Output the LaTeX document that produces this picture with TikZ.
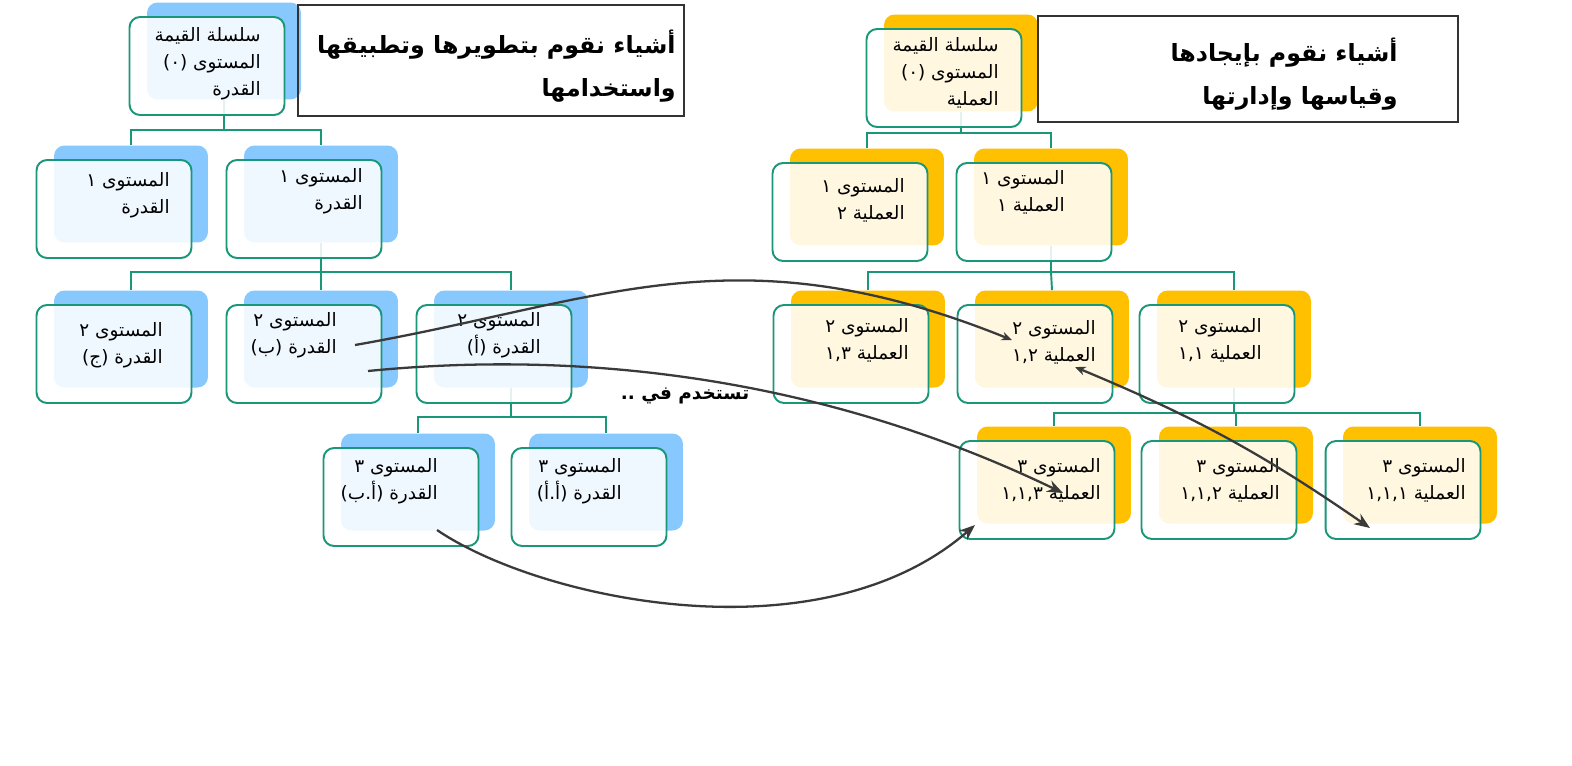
\documentclass[tikz,border=0pt]{standalone}
\usepackage{fontspec}
\newfontfamily\arabicfont[Script=Arabic]{DejaVu Sans}
\TeXXeTstate=1
\usetikzlibrary{arrows.meta}
\definecolor{tealline}{RGB}{26,150,120}
\definecolor{capblue}{RGB}{135,200,255}
\definecolor{procgold}{RGB}{255,192,0}
\definecolor{usegray}{RGB}{58,58,58}
\newcommand{\rl}[1]{\beginR #1\endR}

\begin{document}
\begin{tikzpicture}[
  x=0.02cm,y=-0.02cm,
  back/.style={rectangle,rounded corners=6pt,minimum width=3.08cm,minimum height=1.94cm,inner sep=0pt},
  capback/.style={back,fill=capblue},
  procback/.style={back,fill=procgold},
  frame/.style={rectangle,rounded corners=6pt,draw=tealline,line width=1.1pt,fill=white,fill opacity=0.88,minimum width=3.1cm,minimum height=1.96cm,inner sep=0pt},
  lbl/.style={anchor=north east,align=right,inner sep=0pt,font=\arabicfont\fontsize{10.5}{15.5}\selectfont},
  titlebox/.style={rectangle,draw=black!80,line width=1.1pt,inner sep=0pt},
  titletext/.style={anchor=north east,align=right,inner sep=0pt,font=\arabicfont\bfseries\fontsize{13.5}{24}\selectfont},
  link/.style={tealline,line width=1.1pt},
  use/.style={-{Stealth[length=9pt,width=7pt]},usegray,line width=1.3pt}
]
  \fill[white] (0,0) rectangle (1572,765);
  \useasboundingbox (0,0) rectangle (1572,765);

  \foreach \n/\x/\y in {v0/224/51,v1b/131/194,v1a/321/194,v2c/131/339,v2b/321/339,v2a/511/339,v3b/418/482,v3a/606/482}
    \node[capback] (\n) at (\x,\y) {};
  \foreach \n/\x/\y in {w0/961/63,w1b/867/197,w1a/1051/197,w2c/868/339,w2b/1052/339,w2a/1234/339,w3c/1054/475,w3b/1236/475,w3a/1420/475}
    \node[procback] (\n) at (\x,\y) {};

  \coordinate (busv0) at (224,130);
  \coordinate (busv1) at (321,272);
  \coordinate (busv2) at (511,417);
  \coordinate (busw0) at (961,133);
  \coordinate (busw1) at (1051,272);
  \coordinate (busw2) at (1234,413);
  \draw[link] (v0.south) -- (busv0) -| (v1b.north);
  \draw[link] (busv0) -| (v1a.north);
  \draw[link] (v1a.south) -- (busv1) -| (v2c.north);
  \draw[link] (busv1) -- (v2b.north);
  \draw[link] (busv1) -| (v2a.north);
  \draw[link] (v2a.south) -- (busv2) -| (v3b.north);
  \draw[link] (busv2) -| (v3a.north);
  \draw[link] (w0.south) -- (busw0) -| (w1b.north);
  \draw[link] (busw0) -| (w1a.north);
  \draw[link] (w1a.south) -- (busw1) -| (w2c.north);
  \draw[link] (busw1) -- (w2b.north);
  \draw[link] (busw1) -| (w2a.north);
  \draw[link] (w2a.south) -- (busw2) -| (w3c.north);
  \draw[link] (busw2) -| (w3b.north);
  \draw[link] (busw2) -| (w3a.north);

  \foreach \n in {v0,v1b,v1a,v2c,v2b,v2a,v3b,v3a,w0,w1b,w1a,w2c,w2b,w2a,w3c,w3b,w3a}
    \node[frame] (f\n) at ([xshift=-0.34cm,yshift=-0.3cm]\n.center) {};

  \node[lbl] (tv0) at (261,27) {\rl{سلسلة القيمة}\\\rl{المستوى (٠)}\\\rl{القدرة}};
  \node[lbl] (tv1b) at (170,172) {\rl{المستوى ١}\\\rl{القدرة}};
  \node[lbl] (tv1a) at (363,168) {\rl{المستوى ١}\\\rl{القدرة}};
  \node[lbl] (tv2c) at (163,322) {\rl{المستوى ٢}\\\rl{القدرة (ج)}};
  \node[lbl] (tv2b) at (337,312) {\rl{المستوى ٢}\\\rl{القدرة (ب)}};
  \node[lbl] (tv2a) at (541,312) {\rl{المستوى ٢}\\\rl{القدرة (أ)}};
  \node[lbl] (tv3b) at (438,458) {\rl{المستوى ٣}\\\rl{القدرة (أ.ب)}};
  \node[lbl] (tv3a) at (622,458) {\rl{المستوى ٣}\\\rl{القدرة (أ.أ)}};
  \node[lbl] (tw0) at (999,37) {\rl{سلسلة القيمة}\\\rl{المستوى (٠)}\\\rl{العملية}};
  \node[lbl] (tw1b) at (905,178) {\rl{المستوى ١}\\\rl{العملية ٢}};
  \node[lbl] (tw1a) at (1065,170) {\rl{المستوى ١}\\\rl{العملية ١}};
  \node[lbl] (tw2c) at (909,318) {\rl{المستوى ٢}\\\rl{العملية ١,٣}};
  \node[lbl] (tw2b) at (1096,320) {\rl{المستوى ٢}\\\rl{العملية ١,٢}};
  \node[lbl] (tw2a) at (1262,318) {\rl{المستوى ٢}\\\rl{العملية ١,١}};
  \node[lbl] (tw3c) at (1101,458) {\rl{المستوى ٣}\\\rl{العملية ١,١,٣}};
  \node[lbl] (tw3b) at (1280,458) {\rl{المستوى ٣}\\\rl{العملية ١,١,٢}};
  \node[lbl] (tw3a) at (1466,458) {\rl{المستوى ٣}\\\rl{العملية ١,١,١}};

  \node[titlebox,minimum width=7.72cm,minimum height=2.22cm] (capttl) at (491,60.5) {};
  \node[titletext] (capttltext) at (676,30) {\rl{أشياء نقوم بتطويرها وتطبيقها}\\\rl{واستخدامها}};
  \node[titlebox,minimum width=8.4cm,minimum height=2.12cm] (procttl) at (1248,69) {};
  \node[titletext] (procttltext) at (1398,38) {\rl{أشياء نقوم بإيجادها}\\\rl{وقياسها وإدارتها}};

  \node[font=\arabicfont\bfseries\fontsize{10.5}{13}\selectfont] (usedin) at (685,396) {\rl{تستخدم في ..}};

  \coordinate (a1s) at (355,345);
  \coordinate (a1e) at (1012,340);
  \coordinate (a2s) at (368,371);
  \coordinate (a2e) at (1063,493);
  \coordinate (a3s) at (1075,367);
  \coordinate (a3e) at (1370,528);
  \coordinate (a4s) at (437,530);
  \coordinate (a4e) at (975,525);
  \draw[use,-{Stealth[length=6pt,width=5pt]}] (a1s) .. controls (601,302) and (734,228) .. (a1e);
  \draw[use] (a2s) .. controls (580,350) and (820,376) .. (a2e);
  \draw[use,{Stealth[length=6pt,width=5pt]}-{Stealth[length=9pt,width=7pt]}] (a3s) to[bend left=6] (a3e);
  \draw[use] (a4s) .. controls (540,600) and (820,660) .. (a4e);
\end{tikzpicture}
\end{document}
